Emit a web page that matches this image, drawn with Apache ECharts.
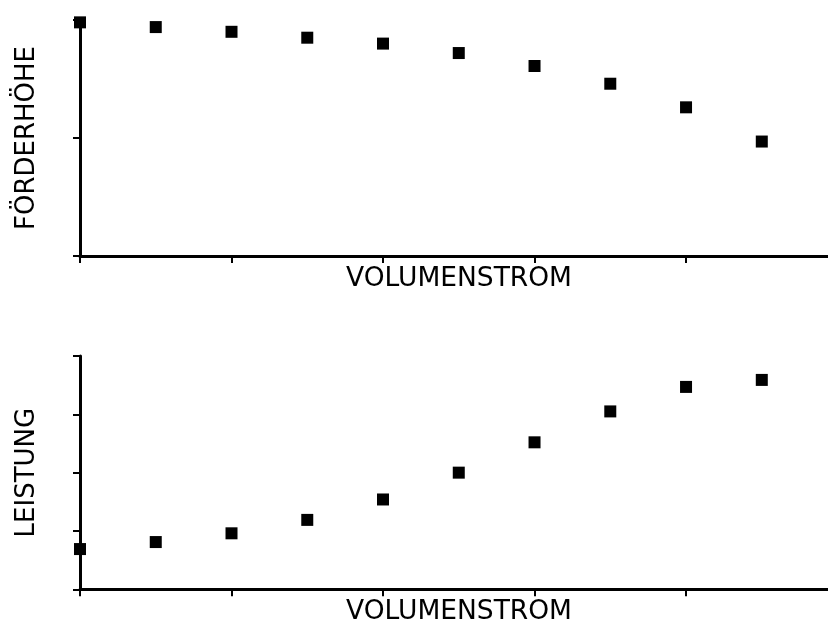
<!DOCTYPE html>
<html>
<head>
<meta charset="utf-8">
<title>Pumpenkennlinien</title>
<script src="https://cdn.jsdelivr.net/npm/echarts@6/dist/echarts.min.js"></script>
<style>
  html, body { margin: 0; padding: 0; background: #fff; }
  #chart { width: 828px; height: 623px; }
</style>
</head>
<body>
<div id="chart"></div>
<script>
// Volumenstrom (relative units)
const flow = [0, 0.5, 1, 1.5, 2, 2.5, 3, 3.5, 4, 4.5];
// Förderhöhe over Volumenstrom
const head = [1.98, 1.94, 1.90, 1.85, 1.80, 1.72, 1.61, 1.46, 1.26, 0.97];
// Leistung over Volumenstrom
const power = [0.69, 0.81, 0.96, 1.19, 1.54, 2.0, 2.52, 3.05, 3.47, 3.59];

const xTicks = [0, 1, 2, 3, 4];
const headTicks = [0, 1, 2];
const powerTicks = [0, 1, 2, 3, 4];

const FONT = 'DejaVu Sans';
const INK = '#000';
const X_MAX = 4.937;   // the flow axis runs out to the right edge

function xAxisFor(gridIndex, gap) {
  return {
    gridIndex: gridIndex,
    type: 'value',
    min: 0,
    max: X_MAX,
    interval: 1,
    name: 'VOLUMENSTROM',
    nameLocation: 'middle',
    nameGap: gap,
    nameTextStyle: { fontFamily: FONT, fontSize: 26.5, color: INK, padding: [0, 0, 0, 10] },
    axisLine: { show: true, onZero: false, lineStyle: { color: INK, width: 3 } },
    axisTick: { show: true, length: 7, customValues: xTicks, lineStyle: { color: INK, width: 2 } },
    axisLabel: { show: false },
    splitLine: { show: false }
  };
}

function yAxisFor(gridIndex, name, max, ticks) {
  return {
    gridIndex: gridIndex,
    type: 'value',
    min: 0,
    max: max,
    interval: 1,
    name: name,
    nameLocation: 'middle',
    nameGap: 40,
    nameTextStyle: { fontFamily: FONT, fontSize: 26, color: INK },
    axisLine: { show: true, onZero: false, lineStyle: { color: INK, width: 3 } },
    axisTick: { show: true, length: 7, customValues: ticks, lineStyle: { color: INK, width: 2 } },
    axisLabel: { show: false },
    splitLine: { show: false }
  };
}

const chart = echarts.init(document.getElementById('chart'), null, { renderer: 'canvas' });
chart.setOption({
  backgroundColor: '#fff',
  animation: false,
  grid: [
    { left: 80, top: 20, right: 0, height: 236, outerBoundsMode: 'none' },
    { left: 80, top: 356, right: 0, height: 233.3, outerBoundsMode: 'none' }
  ],
  xAxis: [xAxisFor(0, 10), xAxisFor(1, 9.5)],
  yAxis: [
    yAxisFor(0, 'FÖRDERHÖHE', 2, headTicks),
    yAxisFor(1, 'LEISTUNG', 4, powerTicks)
  ],
  series: [
    {
      type: 'scatter',
      xAxisIndex: 0,
      yAxisIndex: 0,
      symbol: 'rect',
      symbolSize: 12,
      clip: false,
      itemStyle: { color: INK, opacity: 1 },
      data: flow.map((q, i) => [q, head[i]])
    },
    {
      type: 'scatter',
      xAxisIndex: 1,
      yAxisIndex: 1,
      symbol: 'rect',
      symbolSize: 12,
      clip: false,
      itemStyle: { color: INK, opacity: 1 },
      data: flow.map((q, i) => [q, power[i]])
    }
  ]
});
</script>
</body>
</html>
